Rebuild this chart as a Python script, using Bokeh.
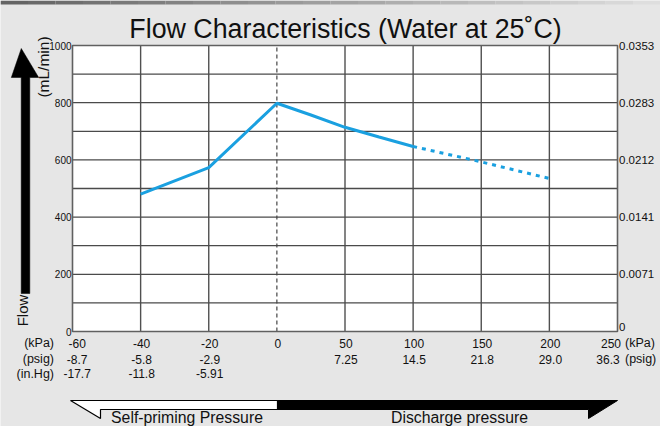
import numpy as np
from bokeh.plotting import figure
from bokeh.models import Range1d
from bokeh.core.properties import value
from bokeh.embed import file_html
from bokeh.resources import INLINE

# ---- data ----
kpa_ticks = [-60, -40, -20, 0, 50, 100, 150, 200, 250]
kpa_labels = ["-60", "-40", "-20", "0", "50", "100", "150", "200", "250"]
psig_labels = ["-8.7", "-5.8", "-2.9", "", "7.25", "14.5", "21.8", "29.0", "36.3"]
inhg_labels = ["-17.7", "-11.8", "-5.91", "", "", "", "", "", ""]
flow_ticks = [0, 200, 400, 600, 800, 1000]
flow_labels = ["0", "200", "400", "600", "800", "1000"]
cfm_labels = ["0", "0.0071", "0.0141", "0.0212", "0.0283", "0.0353"]
flow_grid = [100, 200, 300, 400, 500, 600, 700, 800, 900]

solid_kpa = [-40, -20, 0, 25, 50, 75, 100]
solid_flow = [480, 573, 798, 757, 714, 680, 647]
dotted_kpa = [100, 150, 200]
dotted_flow = [647, 593, 535]

FONT = "Liberation Sans"
BLUE = "#1aa0e0"
BG = "#e6e6e6"
INK = "#111111"

tick_pos = list(range(len(kpa_ticks)))


def xpos(k):
    # piecewise-linear pressure axis (20 kPa per division below 0, 50 kPa above)
    return np.interp(k, kpa_ticks, tick_pos)


# page geometry: plot area occupies window px x 72..617, y 45..331
W, H = 660, 426
FX0, FX1, FY0, FY1 = 72, 617, 45, 331


def dx(px):
    return (px - FX0) / (FX1 - FX0) * (len(kpa_ticks) - 1)


def dy(py):
    return (FY1 - py) / (FY1 - FY0) * 1000


p = figure(width=W, height=H, output_backend="svg", toolbar_location=None, tools="",
           x_range=Range1d(dx(0), dx(W)), y_range=Range1d(dy(H), dy(0)),
           x_axis_location=None, y_axis_location=None, min_border=0)
p.title = None
p.grid.visible = False
p.outline_line_color = None
p.background_fill_color = BG
p.border_fill_color = BG


def txt(x, y, t, size, align="center", angle=0.0, x_offset=0, y_offset=0,
        color=INK):
    p.text(x=x, y=y, text=t, angle=angle, x_offset=x_offset, y_offset=y_offset,
           text_font=value(FONT), text_font_size=value(size),
           text_align=align, text_baseline="middle", text_color=color)


# top gradient band
n = 24
edges = np.linspace(dx(0), dx(W), n + 1)
shades = ["#%02x%02x%02x" % (v, v, v) for v in np.linspace(100, 222, n).astype(int)]
p.quad(left=edges[:-1], right=edges[1:], bottom=dy(4), top=dy(0),
       fill_color=shades, line_color=None)

# plot area
p.quad(left=[tick_pos[0]], right=[tick_pos[-1]], bottom=[flow_ticks[0]],
       top=[flow_ticks[-1]], fill_color="white", line_color=None)
vgrid = [t for t, k in zip(tick_pos[1:-1], kpa_ticks[1:-1]) if k != 0]
p.segment(x0=vgrid, y0=[flow_ticks[0]] * len(vgrid), x1=vgrid,
          y1=[flow_ticks[-1]] * len(vgrid), line_color="#505050", line_width=1.4)
p.segment(x0=[tick_pos[0]] * len(flow_grid), y0=flow_grid,
          x1=[tick_pos[-1]] * len(flow_grid), y1=flow_grid,
          line_color="#4a4a4a", line_width=1.3)
zx = [float(xpos(0))]
p.segment(x0=zx, y0=[flow_ticks[0]], x1=zx, y1=[flow_ticks[-1]],
          line_color="#444444", line_width=1.2, line_dash="4 3")
p.quad(left=[tick_pos[0]], right=[tick_pos[-1]], bottom=[flow_ticks[0]],
       top=[flow_ticks[-1]], fill_color=None, line_color="#606060", line_width=1.6)

# data
p.line(xpos(solid_kpa), solid_flow, line_color=BLUE, line_width=3)
p.line(xpos(dotted_kpa), dotted_flow, line_color=BLUE, line_width=3,
       line_dash="4 5")

# left flow tick labels (mL/min)
txt([dx(71)] * len(flow_ticks), flow_ticks, flow_labels, "10px", align="right")
# right flow tick labels (CFM); lowest one sits above its gridline
txt([dx(618.5)] * len(flow_ticks), flow_ticks, cfm_labels, "11.5px", align="left",
    y_offset=[-5] + [0] * (len(flow_ticks) - 1))

# pressure tick label rows (visual centre of each row)
rows = [(kpa_labels, 342.8, -6.5), (psig_labels, 358.8, -9.5), (inhg_labels, 373.3, 0)]
for labels, cy, last_off in rows:
    xs, ts, offs = [], [], []
    for i, (t, lab) in enumerate(zip(tick_pos, labels)):
        if lab == "":
            continue
        xs.append(t)
        ts.append(lab)
        offs.append(4.7 if i == 0 else (last_off if i == len(tick_pos) - 1 else 1))
    txt(xs, [dy(cy)] * len(xs), ts, "12px", x_offset=offs)

# unit captions
txt([dx(53.5)] * 3, [dy(342.8), dy(358.8), dy(373.3)], ["(kPa)", "(psig)", "(in.Hg)"],
    "12.5px", align="right")
txt([dx(624.5)] * 2, [dy(342.8), dy(358.8)], ["(kPa)", "(psig)"], "12.5px",
    align="left")

# title
txt([dx(345)], [dy(28)], ["Flow Characteristics (Water at 25˚C)"], "26.8px")

# vertical axis caption and arrow
p.patch([dx(v) for v in [20.7, 29.3, 29.3, 38.2, 20.8, 10.8, 20.7]],
        [dy(v) for v in [293, 293, 77, 77, 48, 77, 77]],
        fill_color="black", line_color="black", line_width=0.5)
txt([dx(42.5)], [dy(66.5)], ["(mL/min)"], "15.5px", angle=np.pi / 2)
txt([dx(21.5)], [dy(310)], ["Flow"], "15px", angle=np.pi / 2)

# bottom pressure-direction bar
p.patch([dx(v) for v in [70, 277, 277, 100, 100]],
        [dy(v) for v in [400, 400, 409, 409, 418]],
        fill_color="white", line_color="black", line_width=1.2)
p.patch([dx(v) for v in [277, 617, 588, 588, 277]],
        [dy(v) for v in [400, 400, 418, 409, 409]],
        fill_color="black", line_color="black", line_width=1)
txt([dx(186.5), dx(459)], [dy(417), dy(417)],
    ["Self-priming Pressure", "Discharge pressure"], "15.8px")

open("out.html", "w").write(file_html(p, INLINE))
